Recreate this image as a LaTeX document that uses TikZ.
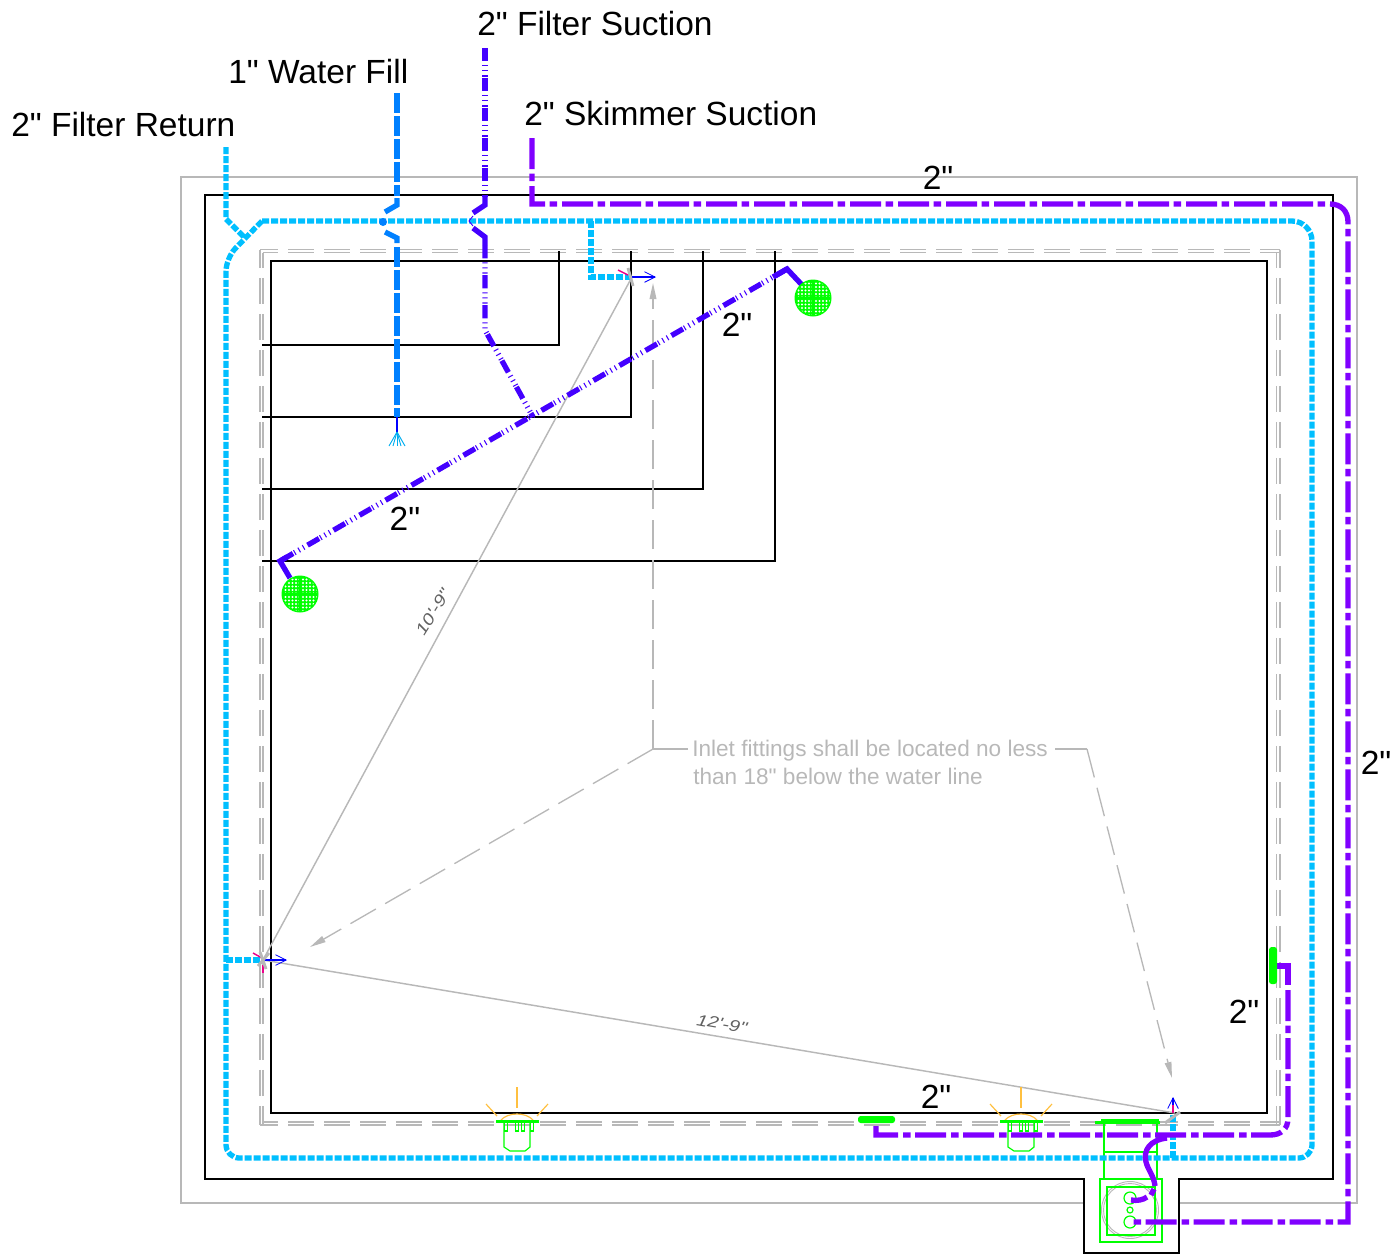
\documentclass[tikz,border=0pt]{standalone}
\usepackage{fontspec}
\usetikzlibrary{arrows.meta}
\newfontfamily\labfont{Liberation Sans}
\newfontfamily\dimfont[FakeStretch=1.25]{Liberation Sans}
\definecolor{retcyan}{HTML}{00BFFF}
\definecolor{fillblue}{HTML}{0080FF}
\definecolor{suctblue}{HTML}{4400FF}
\definecolor{skimpur}{HTML}{8000FF}
\definecolor{cadgreen}{HTML}{00FF00}
\definecolor{cadgray}{HTML}{B8B8B8}
\definecolor{cadorange}{HTML}{FFC040}
\tikzset{
  x=.75pt,y=-.75pt,
  biglabel/.style={font=\labfont\fontsize{25.12}{30}\selectfont,inner sep=0pt,anchor=west,text=black},
  notelabel/.style={font=\labfont\fontsize{16.95}{20}\selectfont,inner sep=0pt,anchor=west,text=cadgray},
  dimlabel/.style={font=\dimfont\itshape\fontsize{12}{14}\selectfont,inner sep=0pt,text=black!62},
  outerwall/.style={draw=cadgray,line width=1.1pt},
  wall/.style={draw=black,line width=1.1pt},
  poolwall/.style={draw=black,line width=2.1pt},
  stepline/.style={draw=black,line width=1.1pt},
  graydash/.style={draw=cadgray,line width=.9pt,dash pattern=on 19.2pt off 7.8pt,dash phase=5.7pt},
  graydashin/.style={draw=cadgray,line width=.9pt,dash pattern=on 19.2pt off 7.8pt,dash phase=7.95pt},
  retpipe/.style={draw=retcyan,line width=4pt,dash pattern=on 5.25pt off 1.5pt},
  fillpipe/.style={draw=fillblue,line width=4pt,dash pattern=on 15pt off 2.25pt},
  fillsolid/.style={draw=fillblue,line width=4pt},
  suctpipe/.style={draw=suctblue,line width=4pt,dash pattern=on 10pt off 3pt on .8pt off 3pt on .8pt off 3pt on .8pt off 1.1pt},
  suctsolid/.style={draw=suctblue,line width=4pt},
  skimpipe/.style={draw=skimpur,line width=4pt,dash pattern=on 23.25pt off 3.4pt on 5.6pt off 3.75pt},
  skimsolid/.style={draw=skimpur,line width=4pt},
  inletarrow/.style={draw=blue,line width=1.3pt,-{Straight Barb[length=8pt,width=8pt,line width=.6pt]}},
  dimline/.style={draw=cadgray,line width=1.1pt},
  dimtick/.style={draw=cadgray,line width=2.2pt},
  magmark/.style={draw=magenta,line width=1.1pt},
  leader/.style={draw=cadgray,line width=1pt},
  leaderdash/.style={draw=cadgray,line width=1pt,dash pattern=on 22pt off 8pt,-{Triangle[length=12pt,width=5pt,fill=cadgray]}},
  green thin/.style={draw=cadgreen,line width=.9pt},
  green thick/.style={draw=cadgreen,line width=2.2pt},
  lamp/.style={draw=cadorange,line width=.9pt},
  fan/.style={draw=cyan,line width=.7pt},
}
\newcommand{\drainmark}[2]{%
  \fill[cadgreen] (#1,#2) circle (18.5);
  \begin{scope}
    \clip (#1,#2) circle (17);
    \foreach \dx in {-18,-14.5,...,18}
      \foreach \dy in {-18,-14.5,...,18}
        \fill[white] ({#1+\dx},{#2+\dy}) circle (1.05);
    \draw[cadgreen,line width=.8pt] ({#1-18},#2) -- ({#1+18},#2);
    \draw[cadgreen,line width=.8pt] (#1,{#2-18}) -- (#1,{#2+18});
  \end{scope}
}
\newcommand{\lightfit}[1]{%
  \begin{scope}[shift={(#1,0)}]
    \draw[lamp] (0,1087) -- (0,1108);
    \draw[lamp] (-31,1104) -- (-20,1116);
    \draw[lamp] (31,1104) -- (20,1116);
    \draw[lamp] (-16,1120) .. controls (-9,1112) and (9,1112) .. (16,1120);
    \draw[green thick] (-21,1121.5) -- (22,1121.5);
    \draw[green thin] (-13,1123) -- (-13,1147) -- (-7,1151) -- (8,1151) -- (13,1147) -- (13,1123);
    \foreach \sx in {-11,0,6,15}
      \draw[green thin] ({\sx-1.5},1123) -- ({\sx-1.5},1131) -- ({\sx+1.5},1131) -- ({\sx+1.5},1123);
  \end{scope}
}
\begin{document}
\begin{tikzpicture}
\useasboundingbox (0,0) rectangle (1395,1258);

% outer gray deck line
\draw[outerwall] (1084,1203) -- (181,1203) -- (181,177) -- (1357,177) -- (1357,1203) -- (1179,1203);
% black wall with sump notch
\draw[wall] (205,195) -- (1333,195) -- (1333,1179) -- (1179,1179) -- (1179,1253) -- (1084,1253) -- (1084,1179) -- (205,1179) -- cycle;
% double dashed gray line, side by side so the dashes pair up
\draw[graydash] (260,249.5) -- (1280,249.5);
\draw[graydashin] (263,252.5) -- (1280,252.5);
\draw[graydash] (260,1125) -- (1280,1125);
\draw[graydashin] (263,1122) -- (1280,1122);
\draw[graydash] (260,249.5) -- (260,1125);
\draw[graydashin] (263,252.5) -- (263,1125);
\draw[graydash] (1280,249.5) -- (1280,1125);
\draw[graydashin] (1276.5,252.5) -- (1276.5,1125);
% stepped lines
\draw[stepline] (262,345) -- (559,345) -- (559,251);
\draw[stepline] (262,417) -- (631,417) -- (631,251);
\draw[stepline] (262,489) -- (703,489) -- (703,251);
\draw[stepline] (262,561) -- (775,561) -- (775,251);
% pool
\draw[poolwall] (271,261) rectangle (1267,1113);

% dimensions
\draw[dimline] (263,960) -- (632,277);
\draw[dimline] (263,960) -- (1175,1113);
\node[dimlabel,rotate=58] (dimA) at (433,612) {10'-9"};
\node[dimlabel,rotate=-10] (dimB) at (722,1024) {12'-9"};

% leaders
\node[notelabel] (noteA) at (692,751) {Inlet fittings shall be located no less};
\node[notelabel] (noteB) at (693,776) {than 18" below the water line};
\coordinate (lj) at (653,749);
\coordinate (rj) at (1087,749);
\draw[leader] (688,749) -- (lj);
\draw[leader] (1055,749) -- (rj);
\draw[leaderdash] (lj) -- (653,283);
\draw[leaderdash] (lj) -- (310,947);
\draw[leaderdash] (rj) -- (1172,1078);

% lights
\lightfit{517}
\lightfit{1021}

% sump
\draw[green thin] (1104,1122) rectangle (1157,1179);
\draw[green thin] (1104,1152) -- (1157,1152);
\draw[green thick] (1095,1122.5) -- (1160,1122.5);
\draw[green thin] (1101,1120) -- (1159,1120);
\draw[cadgray,line width=.7pt] (1130,1210) circle (28.5);
\draw[cadgray,line width=.7pt] (1130,1210) circle (26.5);
\draw[cadgreen,line width=2pt] (1100,1179) rectangle (1162,1242);
\draw[green thin] (1107,1187) rectangle (1155,1235);
\draw[green thin] (1130,1198) circle (6);
\draw[green thin] (1130,1210) circle (3);
\draw[green thin] (1130,1222) circle (6);

% filter return
\draw[retpipe] (262,221) [rounded corners=15pt] -- (1312,221) [rounded corners=10pt] -- (1312,1158) -- (226,1158) -- (226,258) [sharp corners] -- (262,221);
\draw[retpipe] (226,147) -- (226,219) -- (245,238);
\draw[retpipe] (591,221) -- (591,277) -- (630,277);
\draw[retpipe] (226,960) -- (260,960);
\draw[retpipe] (1173,1158) -- (1173,1114);

% water fill
\draw[fillpipe] (397,93) -- (397,196);
\draw[fillsolid] (397,198) -- (397,205) -- (385,212);
\fill[fillblue] (383,222) circle (4);
\draw[fillsolid] (385,232) -- (397,238) -- (397,243);
\draw[fillpipe] (397,247) -- (397,417);
\draw[draw=blue,line width=1.5pt] (397,417) -- (397,432);
\foreach \fx in {-8,-4,0,4,8}
  \draw[fan] (397,432) -- ({397+\fx},446);

% filter suction
\draw[suctpipe] (485,48) -- (485,197);
\draw[suctsolid] (485,197) -- (485,205) -- (473,213);
\draw[suctblue,line width=.7pt] (473,216) -- (469,221) -- (473,226);
\draw[suctsolid] (473,228) -- (485,237) -- (485,245);
\draw[suctpipe] (485,245) -- (485,330) -- (533,417);
\draw[suctpipe] (787,269) -- (280,561);
\draw[suctsolid] (773,277) -- (787,269) -- (803,286);
\draw[suctsolid] (287,557) -- (280,561) -- (290,578);

% skimmer suction
\draw[skimpipe] (532,138) -- (532,204) -- (1330,204) .. controls (1341,204) and (1348,211) .. (1348,222) -- (1348,1222) -- (1130,1222);
\draw[skimsolid] (1275,966) -- (1288,966) -- (1288,985);
\draw[skimpipe] (1288,990) -- (1288,1118) .. controls (1288,1129) and (1281,1135) .. (1270,1135) -- (876,1135) -- (876,1123);
\draw[skimsolid] (1167,1138) .. controls (1150,1140) and (1143,1150) .. (1146,1162) .. controls (1148,1170) and (1154,1176) .. (1155,1186);
\draw[skimsolid] (1154,1189) -- (1151,1195);
\draw[skimsolid] (1147,1197) .. controls (1143,1200) and (1137,1201) .. (1131,1200);

% drains and skimmers
\drainmark{813}{298}
\drainmark{300}{594}
\fill[cadgreen,rounded corners=2pt] (1269,947) rectangle (1277,984);
\fill[cadgreen,rounded corners=2pt] (858,1116) rectangle (895,1123);

% inlets
\draw[inletarrow] (263,960) -- (287,960);
\draw[inletarrow] (630,277) -- (656,277);
\draw[inletarrow] (1173,1113) -- (1173,1097);
\draw[magmark] (253,953) -- (262,958);
\draw[magmark] (263,965) -- (263,973);
\draw[magmark] (618,270) -- (628,275);
\draw[magmark] (1173,1105) -- (1173,1113);
\draw[dimtick] (258,966) -- (269,953);
\draw[dimtick] (260,952) -- (266,969);
\draw[dimtick] (628,268) -- (633,286);
\draw[dimtick] (1165,1123) -- (1180,1112);

% labels
\node[biglabel] (lret) at (11,125) {2" Filter Return};
\node[biglabel] (lfill) at (228,72) {1" Water Fill};
\node[biglabel] (lsuct) at (477,24) {2" Filter Suction};
\node[biglabel] (lskim) at (524,114) {2" Skimmer Suction};
\node[biglabel,anchor=center] (s1) at (938,178) {2"};
\node[biglabel,anchor=center] (s2) at (737,325) {2"};
\node[biglabel,anchor=center] (s3) at (405,519) {2"};
\node[biglabel,anchor=center] (s4) at (1376,763) {2"};
\node[biglabel,anchor=center] (s5) at (1244,1012) {2"};
\node[biglabel,anchor=center] (s6) at (936,1097) {2"};
\end{tikzpicture}
\end{document}
